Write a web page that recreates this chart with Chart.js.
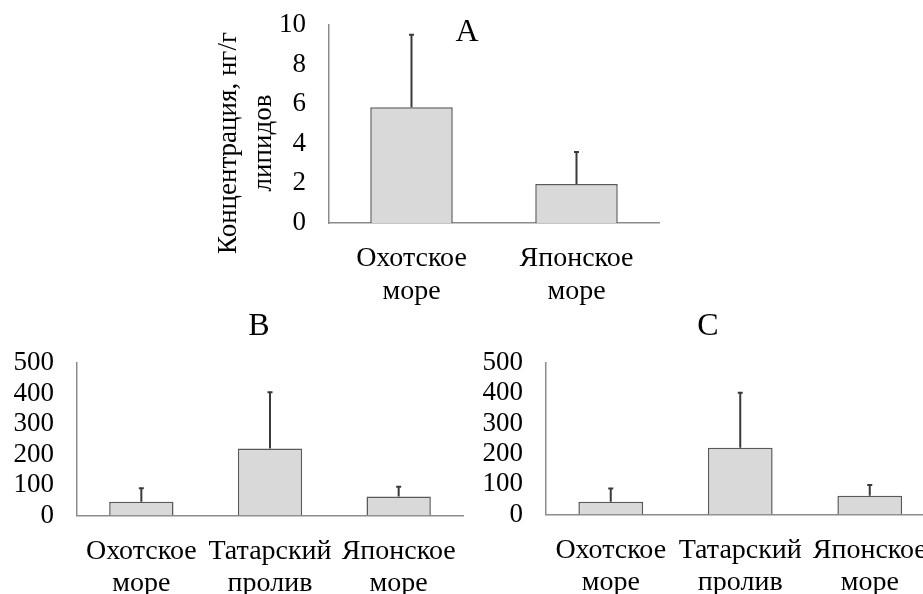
<!DOCTYPE html>
<html>
<head>
<meta charset="utf-8">
<script src="https://cdn.jsdelivr.net/npm/chart.js@4/dist/chart.umd.min.js"></script>
<style>
  html, body { margin: 0; padding: 0; background: #fff; overflow: hidden; }
  body { width: 923px; height: 594px; position: relative; }
  canvas { position: absolute; }
</style>
</head>
<body>
<canvas id="chartA" width="480" height="310" style="left:200px;top:0px"></canvas>
<canvas id="chartB" width="480" height="294" style="left:0px;top:300px"></canvas>
<canvas id="chartC" width="500" height="294" style="left:460px;top:300px"></canvas>
<script>
// panel A: two seas
const seasA = [['Охотское', 'море'], ['Японское', 'море']];
const meanA = [5.85, 1.97];
const sdA = [3.66, 1.62];
const ticksA = [0, 2, 4, 6, 8, 10];
const yTitleA = ['Концентрация, нг/г', 'липидов'];

// panels B and C: three areas
const seasBC = [['Охотское', 'море'], ['Татарский', 'пролив'], ['Японское', 'море']];
const meanB = [45, 220, 62];
const sdB = [44, 184, 32];
const meanC = [42, 220, 62];
const sdC = [44, 182, 35];
const ticksBC = [0, 100, 200, 300, 400, 500];

const FONT = "'Liberation Serif', 'Times New Roman', serif";

// upward error bars, one per bar, from dataset.errors
const errorBars = {
  id: 'errorBars',
  afterDatasetsDraw(chart) {
    const ctx = chart.ctx;
    const y = chart.scales.y;
    chart.data.datasets.forEach((ds, di) => {
      const meta = chart.getDatasetMeta(di);
      meta.data.forEach((bar, i) => {
        const top = y.getPixelForValue(ds.data[i] + ds.errors[i]);
        ctx.save();
        ctx.strokeStyle = '#3a3a3a';
        ctx.lineWidth = 2;
        ctx.beginPath();
        ctx.moveTo(bar.x, bar.y);
        ctx.lineTo(bar.x, top);
        ctx.moveTo(bar.x - 2.5, top);
        ctx.lineTo(bar.x + 2.5, top);
        ctx.stroke();
        ctx.restore();
      });
    });
  }
};

// free text: panel letters and the rotated y title
const panelText = {
  id: 'panelText',
  afterDraw(chart, args, opts) {
    const ctx = chart.ctx;
    (opts.items || []).forEach(it => {
      ctx.save();
      ctx.fillStyle = '#000';
      ctx.font = it.size + 'px ' + FONT;
      ctx.textAlign = 'center';
      ctx.textBaseline = 'middle';
      ctx.translate(it.x, it.y);
      if (it.rotate) ctx.rotate(-Math.PI / 2);
      ctx.fillText(it.text, 0, 0);
      ctx.restore();
    });
  }
};

function makeChart(id, labels, data, errors, ticks, opt) {
  return new Chart(document.getElementById(id), {
    type: 'bar',
    data: {
      labels: labels,
      datasets: [{
        data: data,
        errors: errors,
        backgroundColor: '#d9d9d9',
        borderColor: '#595959',
        borderWidth: 1.5,
        categoryPercentage: 1,
        barPercentage: 0.5
      }]
    },
    options: {
      responsive: false,
      animation: false,
      layout: { padding: opt.padding },
      plugins: {
        legend: { display: false },
        tooltip: { enabled: false },
        panelText: { items: opt.texts }
      },
      scales: {
        x: {
          grid: { display: false, drawTicks: false },
          border: { display: true, color: '#8c8c8c', width: 1.5 },
          ticks: {
            color: '#000',
            padding: 20,
            maxRotation: 0,
            autoSkip: false,
            font: { family: FONT, size: 28, lineHeight: 1.15 }
          },
          afterFit(s) {
            s.height = opt.xHeight;
            s.paddingLeft = 0;
            s.paddingRight = 0;
          }
        },
        y: {
          min: ticks[0],
          max: ticks[ticks.length - 1],
          afterBuildTicks(s) { s.ticks = ticks.map(v => ({ value: v })); },
          grid: { display: false, drawTicks: false },
          border: { display: true, color: '#8c8c8c', width: 1.5 },
          ticks: {
            color: '#000',
            padding: 23,
            autoSkip: false,
            font: { family: FONT, size: 27 }
          },
          afterFit(s) {
            s.width = opt.yWidth;
            s.paddingTop = 0;
            s.paddingBottom = 0;
          }
        }
      }
    },
    plugins: [errorBars, panelText]
  });
}

makeChart('chartA', seasA, meanA, sdA, ticksA, {
  padding: { top: 25, right: 21, left: 0, bottom: 0 },
  xHeight: 87,
  yWidth: 129,
  texts: [
    { text: 'A', x: 267, y: 33, size: 32 },
    { text: yTitleA[0], x: 29, y: 143, size: 27, rotate: true },
    { text: yTitleA[1], x: 64, y: 143, size: 27, rotate: true }
  ]
});

makeChart('chartB', seasBC, meanB, sdB, ticksBC, {
  padding: { top: 63, right: 17, left: 0, bottom: 0 },
  xHeight: 78.5,
  yWidth: 77,
  texts: [{ text: 'B', x: 259, y: 27, size: 32 }]
});

makeChart('chartC', seasBC, meanC, sdC, ticksBC, {
  padding: { top: 63, right: 25.5, left: 0, bottom: 0 },
  xHeight: 79.5,
  yWidth: 86,
  texts: [{ text: 'C', x: 248, y: 27, size: 32 }]
});
</script>
</body>
</html>
